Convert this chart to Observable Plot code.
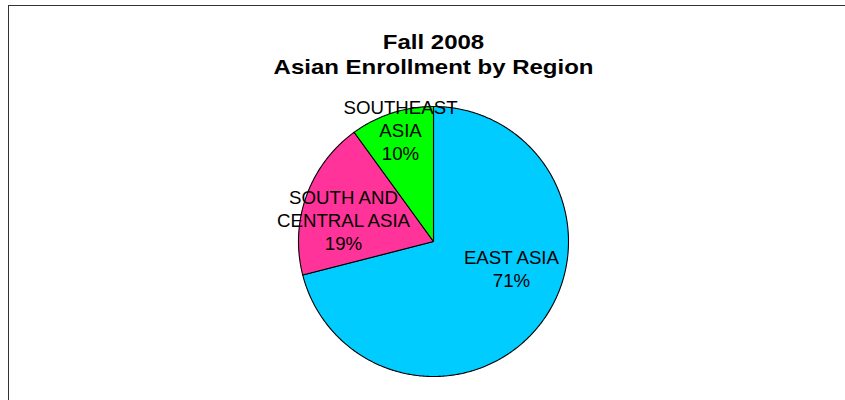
<!DOCTYPE html>
<html>
<head>
<meta charset="utf-8">
<script src="https://cdn.jsdelivr.net/npm/d3@7"></script>
<script src="https://cdn.jsdelivr.net/npm/@observablehq/plot@0.6"></script>
<style>
  body { margin: 0; background: #fff; }
  #wrap { position: relative; width: 845px; height: 400px; overflow: hidden; background: #fff; }
  #border { position: absolute; left: 8px; top: 5px; width: 900px; height: 500px;
            border: 1.4px solid #333; box-sizing: border-box; pointer-events: none; }
</style>
</head>
<body>
<div id="wrap"></div>
<script>
// ---- data ----
const titleLines = ["Fall 2008", "Asian Enrollment by Region"];
const regions = ["EAST ASIA", "SOUTH AND CENTRAL ASIA", "SOUTHEAST ASIA"];
const shares = [71, 19, 10];          // percent of Asian enrollment
const sliceColors = ["#00CCFF", "#FF3399", "#00FF00"];

// ---- layout settings (label placement, polar: degrees clockwise from 12 o'clock, fraction of radius) ----
const labelPlacement = [[108.8, 0.61], [283.7, 0.686], [343.6, 0.865]];
const titleStretch = 1.2;  // the original title glyphs are rendered wider

// ---- build pie geometry from the data ----
const total = d3.sum(shares);
let cum = 0;
const slices = regions.map((region, i) => {
  const a0 = (cum / total) * 2 * Math.PI;
  cum += shares[i];
  const a1 = (cum / total) * 2 * Math.PI;
  const ring = [[0, 0]];
  const steps = Math.max(2, Math.ceil((a1 - a0) / (Math.PI / 360)));
  for (let k = 0; k <= steps; ++k) {
    const a = a0 + (a1 - a0) * k / steps;
    ring.push([Math.sin(a), -Math.cos(a)]);
  }
  ring.push([0, 0]);
  return {type: "Feature", properties: {region, share: shares[i]},
          geometry: {type: "Polygon", coordinates: [ring]}};
});

const labels = regions.map((region, i) => {
  const [deg, f] = labelPlacement[i];
  const a = deg * Math.PI / 180;
  return {region, pct: Math.round(shares[i] / total * 100),
          x: f * Math.sin(a), y: -f * Math.cos(a)};
});

const unitSquare = {type: "Polygon", coordinates: [[[-1, -1], [1, -1], [1, 1], [-1, 1], [-1, -1]]]};

const chart = Plot.plot({
  width: 845,
  height: 400,
  marginLeft: 298,
  marginRight: 277,
  marginTop: 106,
  marginBottom: 24,
  projection: {type: "identity", domain: unitSquare},
  color: {domain: regions, range: sliceColors},
  style: {fontFamily: "Arial, 'Liberation Sans', sans-serif", background: "transparent", color: "black"},
  marks: [
    Plot.geo(slices, {fill: d => d.properties.region, stroke: "black", strokeWidth: 1.1}),
    Plot.text(labels, {
      x: "x", y: "y",
      text: d => `${d.region}\n${d.pct}%`,
      lineWidth: 8, lineHeight: 1.22,
      fontSize: 18.67, fill: "black", textAnchor: "middle"
    }),
    Plot.text([titleLines.join("\n")], {
      frameAnchor: "top", lineAnchor: "bottom", dy: -33,
      fontSize: 20, fontWeight: "bold", lineHeight: 1.25, fill: "black"
    })
  ]
});

const wrap = document.getElementById("wrap");
wrap.appendChild(chart);
const border = document.createElement("div");
border.id = "border";
wrap.appendChild(border);

// widen the title horizontally about its own centre (wrap it so its own transform is kept)
const textGroups = chart.querySelectorAll('g[aria-label="text"]');
const titleG = textGroups[textGroups.length - 1];
if (titleG) {
  const outer = document.createElementNS("http://www.w3.org/2000/svg", "g");
  titleG.parentNode.insertBefore(outer, titleG);
  outer.appendChild(titleG);
  const bb = outer.getBBox();
  const cx = bb.x + bb.width / 2;
  outer.setAttribute("transform",
    `translate(${cx},0) scale(${titleStretch},1) translate(${-cx},0)`);
}
</script>
</body>
</html>
